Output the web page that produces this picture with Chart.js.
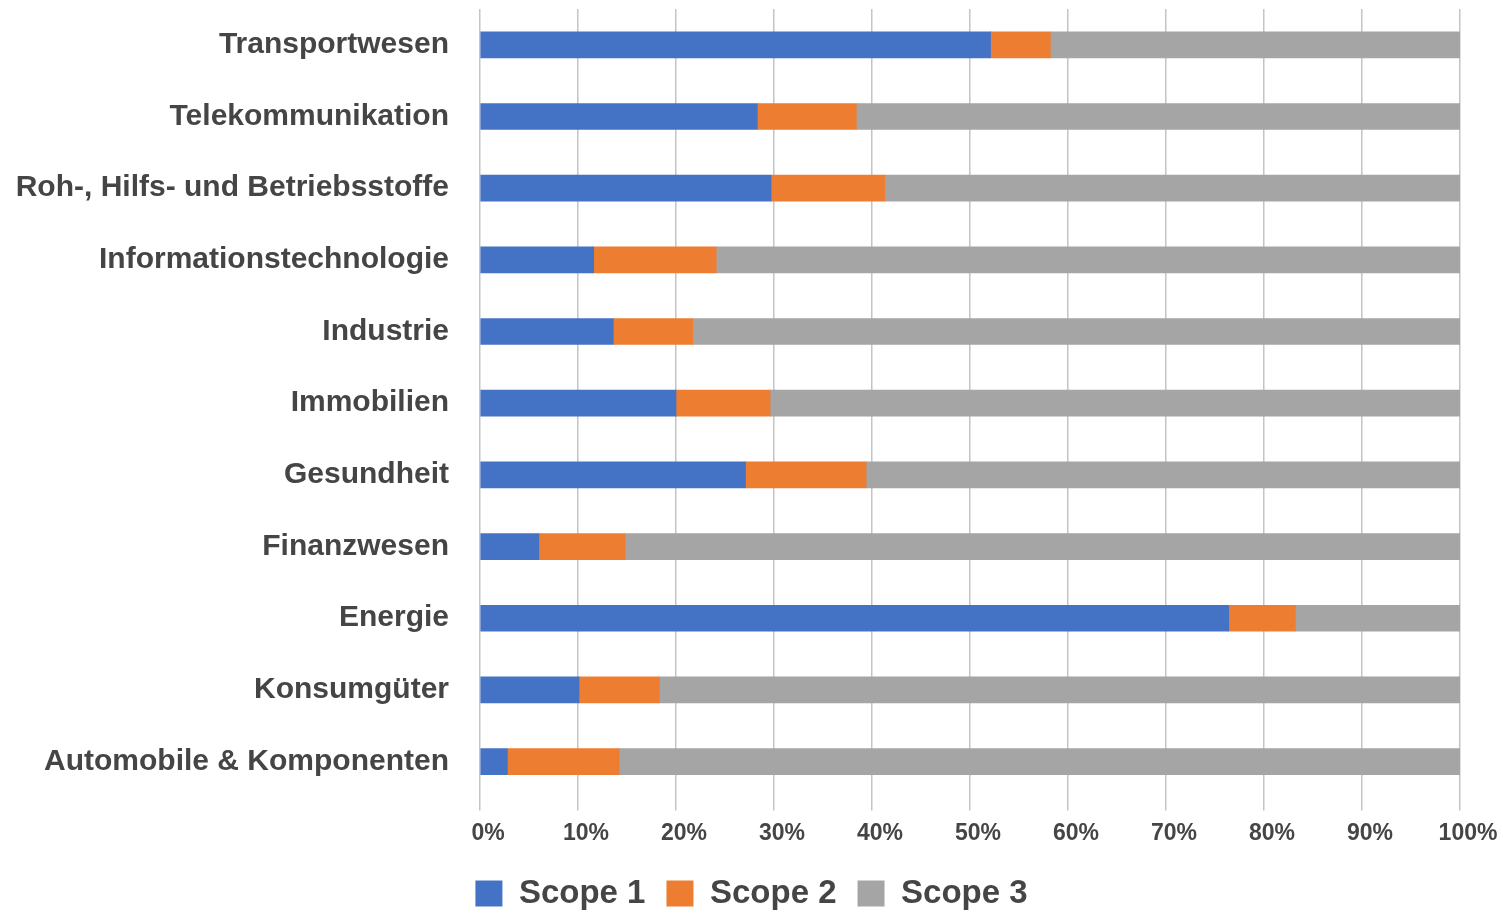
<!DOCTYPE html>
<html>
<head>
<meta charset="utf-8">
<script src="https://cdn.jsdelivr.net/npm/chart.js@4"></script>
<style>
    body { margin: 0; background: #fff; }
    #wrap { width: 1503px; height: 915px; }
</style>
</head>
<body>
<div id="wrap"><canvas id="scopeChart" width="1503" height="915"></canvas></div>
<script>
const sectors = [
    'Transportwesen',
    'Telekommunikation',
    'Roh-, Hilfs- und Betriebsstoffe',
    'Informationstechnologie',
    'Industrie',
    'Immobilien',
    'Gesundheit',
    'Finanzwesen',
    'Energie',
    'Konsumgüter',
    'Automobile & Komponenten'
];
const scope1 = [52.1, 28.3, 29.7, 11.6, 13.6, 20.0, 27.1, 6.0, 76.4, 10.1, 2.8];
const scope2 = [6.1, 10.1, 11.6, 12.5, 8.1, 9.6, 12.3, 8.8, 6.8, 8.2, 11.4];
const scope3 = [41.8, 61.6, 58.7, 75.9, 78.3, 70.4, 60.6, 85.2, 16.8, 81.7, 85.8];
const seriesNames = ['Scope 1', 'Scope 2', 'Scope 3'];

const textColor = '#454545';
const fontFamily = "'Liberation Sans', Arial, sans-serif";

const ctx = document.getElementById('scopeChart');
new Chart(ctx, {
    type: 'bar',
    data: {
        labels: sectors,
        datasets: [
            { label: seriesNames[0], data: scope1, backgroundColor: '#4472C4' },
            { label: seriesNames[1], data: scope2, backgroundColor: '#ED7D31' },
            { label: seriesNames[2], data: scope3, backgroundColor: '#A5A5A5' }
        ]
    },
    options: {
        indexAxis: 'y',
        responsive: false,
        animation: false,
        layout: { padding: { top: 9, right: 0, left: 0, bottom: -5 } },
        datasets: {
            bar: { barThickness: 26, borderWidth: 0 }
        },
        scales: {
            x: {
                stacked: true,
                min: 0,
                max: 100,
                border: { display: false },
                grid: { color: '#c4c4c4', lineWidth: 1.5, tickLength: 13 },
                ticks: {
                    stepSize: 10,
                    padding: 9,
                    labelOffset: 8,
                    color: textColor,
                    font: { family: fontFamily, size: 23, weight: 'bold' },
                    callback: v => v + '%'
                }
            },
            y: {
                stacked: true,
                border: { display: false },
                grid: { display: false, drawTicks: false },
                ticks: {
                    padding: 31,
                    color: textColor,
                    font: { family: fontFamily, size: 30, weight: 'bold' }
                },
                afterFit: scale => {
                    scale.width = 480;
                    scale.paddingTop = 0;
                    scale.paddingBottom = 0;
                }
            },
            // empty strip on the right so the legend is centred on the whole canvas
            yRight: {
                type: 'category',
                position: 'right',
                border: { display: false },
                grid: { display: false, drawTicks: false },
                ticks: { display: false },
                afterFit: scale => {
                    scale.width = 43;
                    scale.paddingTop = 0;
                    scale.paddingBottom = 0;
                }
            }
        },
        plugins: {
            legend: {
                position: 'bottom',
                labels: {
                    boxWidth: 27,
                    boxHeight: 26,
                    padding: 21,
                    color: textColor,
                    font: { family: fontFamily, size: 33, weight: 'bold' }
                }
            },
            tooltip: { enabled: false }
        }
    }
});
</script>
</body>
</html>
